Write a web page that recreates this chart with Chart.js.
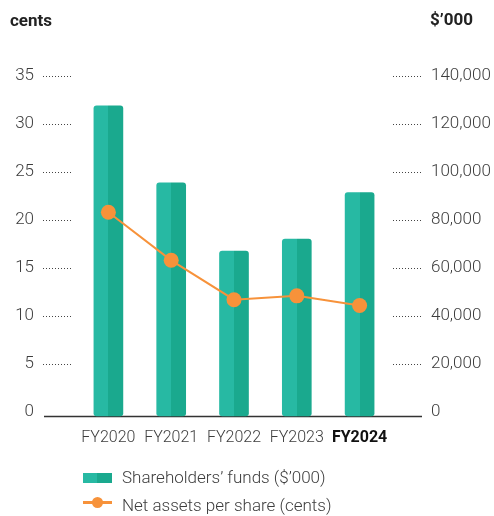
<!DOCTYPE html>
<html>
<head>
<meta charset="utf-8">
<script src="https://cdn.jsdelivr.net/npm/chart.js@4.4.1/dist/chart.umd.min.js"></script>
<style>
  html, body { margin: 0; padding: 0; background: #fff; }
  #wrap {
    position: relative; width: 494px; height: 516px; overflow: hidden;
    font-family: Roboto, 'Liberation Sans', sans-serif;
    color: #3d3d3d;
  }
  #chart { position: absolute; left: 0; top: 0; }
  .unit { position: absolute; font-size: 17px; line-height: 17px; font-weight: bold; color: #222; }
  .leg { position: absolute; left: 83px; font-size: 17px; line-height: 20px; font-weight: 300; white-space: nowrap; }
  .leg span { position: absolute; left: 39px; top: 0; }
  .sw-bar {
    position: absolute; left: 0; top: 6px; width: 29px; height: 10px;
    background: linear-gradient(to right, #27b9a3 50%, #1aa98e 50%);
  }
  .sw-line { position: absolute; left: 0; top: 6px; width: 29px; height: 3px; background: #f7923a; }
  .sw-dot { position: absolute; left: 9px; top: 2px; width: 11px; height: 11px; border-radius: 50%; background: #f7923a; }
</style>
</head>
<body>
<div id="wrap">
  <canvas id="chart" width="494" height="516"></canvas>
  <div class="unit" style="left:10px; top:12px;">cents</div>
  <div class="unit" style="left:430px; top:11px;">$’000</div>
  <div class="leg" style="top:467px;"><div class="sw-bar"></div><span>Shareholders’ funds ($’000)</span></div>
  <div class="leg" style="top:495px;"><div class="sw-line"></div><div class="sw-dot"></div><span>Net assets per share (cents)</span></div>
</div>
<script>
// ---- data ----
const years = ['FY2020', 'FY2021', 'FY2022', 'FY2023', 'FY2024'];
const shareholdersFunds = [127600, 95500, 67100, 72000, 91400];   // $'000
const netAssetsPerShare = [20.8, 15.8, 11.7, 12.1, 11.1];         // cents
const centsMax = 35, centsStep = 5;
const fundsMax = 140000, fundsStep = 20000;

// ---- styles ----
const FONT = "Roboto, 'Liberation Sans', sans-serif";
const TEAL_LIGHT = '#27b9a3';
const TEAL_DARK = '#1aa98e';
const ORANGE = '#f7923a';
const TEXT = '#3d3d3d';
const BAR_W = 29;

// two-tone bar fill: left half light, right half dark
function barFill(c) {
  const xs = c.chart.scales.x;
  if (!xs || c.dataIndex === undefined) return TEAL_LIGHT;
  const cx = xs.getPixelForValue(c.dataIndex);
  if (!isFinite(cx)) return TEAL_LIGHT;
  const g = c.chart.ctx.createLinearGradient(cx - BAR_W / 2, 0, cx + BAR_W / 2, 0);
  g.addColorStop(0, TEAL_LIGHT);
  g.addColorStop(0.5, TEAL_LIGHT);
  g.addColorStop(0.5, TEAL_DARK);
  g.addColorStop(1, TEAL_DARK);
  return g;
}

// dotted tick marks beside each axis + baseline
const axisDecor = {
  id: 'axisDecor',
  beforeDatasetsDraw(chart) {
    const { ctx, chartArea: a, scales } = chart;
    ctx.save();
    ctx.strokeStyle = '#444';
    ctx.lineWidth = 1;
    ctx.setLineDash([1, 2]);
    scales.y.ticks.forEach(t => {
      if (t.value === 0) return;
      const py = Math.round(scales.y.getPixelForValue(t.value)) + 0.5;
      ctx.beginPath(); ctx.moveTo(a.left - 34, py); ctx.lineTo(a.left - 4, py); ctx.stroke();
    });
    scales.y1.ticks.forEach(t => {
      if (t.value === 0) return;
      const py = Math.round(scales.y1.getPixelForValue(t.value)) + 0.5;
      ctx.beginPath(); ctx.moveTo(a.right + 2, py); ctx.lineTo(a.right + 32, py); ctx.stroke();
    });
    ctx.setLineDash([]);
    ctx.strokeStyle = '#333';
    ctx.lineWidth = 1.5;
    const by = scales.y.getPixelForValue(0) + 4.5;
    ctx.beginPath(); ctx.moveTo(a.left - 33, by); ctx.lineTo(a.right + 31, by); ctx.stroke();
    ctx.restore();
  }
};

new Chart(document.getElementById('chart'), {
  type: 'bar',
  data: {
    labels: years,
    datasets: [
      {
        type: 'line',
        label: 'Net assets per share (cents)',
        data: netAssetsPerShare,
        yAxisID: 'y',
        order: 0,
        borderColor: ORANGE,
        borderWidth: 2,
        pointRadius: 7.5,
        pointBorderWidth: 0,
        pointBackgroundColor: ORANGE,
        tension: 0,
        clip: false
      },
      {
        type: 'bar',
        label: "Shareholders’ funds ($’000)",
        data: shareholdersFunds,
        yAxisID: 'y1',
        order: 1,
        backgroundColor: barFill,
        barThickness: BAR_W,
        borderRadius: 3,
        borderSkipped: false,
        base: -1667,
        clip: false
      }
    ]
  },
  options: {
    responsive: false,
    animation: false,
    devicePixelRatio: 1,
    layout: { padding: { top: 76, left: 0, right: 0, bottom: 0 } },
    plugins: { legend: { display: false }, tooltip: { enabled: false } },
    scales: {
      x: {
        offset: true,
        grid: { display: false, drawTicks: false },
        border: { display: false },
        ticks: {
          padding: 16,
          autoSkip: false,
          maxRotation: 0,
          minRotation: 0,
          color: c => c.index === years.length - 1 ? '#111' : TEXT,
          font: c => ({ family: FONT, size: 16, weight: c.index === years.length - 1 ? 'bold' : '300' })
        },
        afterFit: s => { s.height = 104; }
      },
      y: {
        position: 'left',
        min: 0, max: centsMax,
        grid: { drawOnChartArea: false, drawTicks: false },
        border: { display: false },
        ticks: { stepSize: centsStep, padding: 43, color: TEXT, font: { family: FONT, size: 17, weight: '300' } },
        afterFit: s => { s.width = 77; }
      },
      y1: {
        position: 'right',
        min: 0, max: fundsMax,
        grid: { drawOnChartArea: false, drawTicks: false },
        border: { display: false },
        ticks: {
          stepSize: fundsStep, padding: 40, color: TEXT, font: { family: FONT, size: 17, weight: '300' },
          callback: v => v.toLocaleString('en-US')
        },
        afterFit: s => { s.width = 103; }
      }
    }
  },
  plugins: [axisDecor]
});
</script>
</body>
</html>
